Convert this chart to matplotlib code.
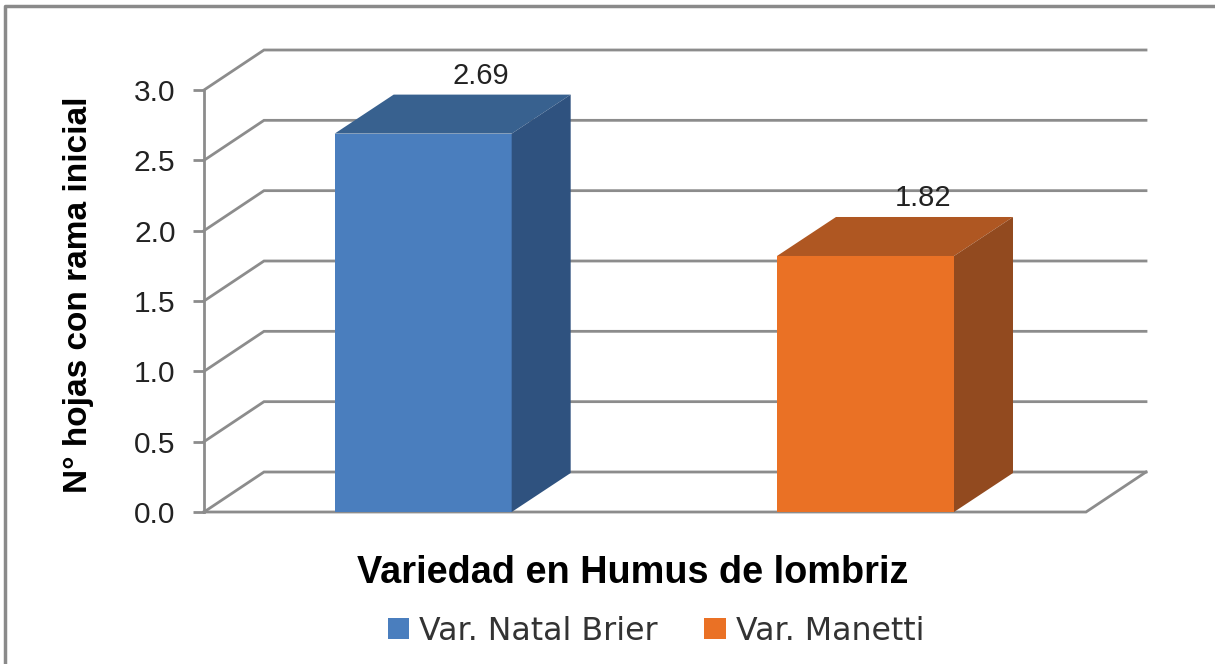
#!/usr/bin/env python3
"""3D-look bar chart: leaves per initial branch by variety, drawn with plain matplotlib."""
import matplotlib
matplotlib.use("Agg")
import matplotlib.pyplot as plt
from matplotlib.patches import Patch, Polygon

plt.rcParams["font.family"] = ["Liberation Sans", "DejaVu Sans"]

categories = ["Var. Natal Brier", "Var. Manetti"]
values = [2.69, 1.82]
value_labels = ["2.69", "1.82"]
y_ticks = [0.0, 0.5, 1.0, 1.5, 2.0, 2.5, 3.0]
y_tick_labels = ["0.0", "0.5", "1.0", "1.5", "2.0", "2.5", "3.0"]

COLORS = ["#4A7EBE", "#EA7125"]
TOPS = ["#38618F", "#AF5722"]
SIDES = ["#2F527F", "#924A1F"]
GRID = "#8C8C8C"

W, H = 1215, 664
X0, X1, Y0, Y3 = 204, 1086, 512, 90  # front plane in pixels
DX = 60 / (X1 - X0) * 2  # depth offset in data units
DY = 40 / (Y0 - Y3) * 3
BAR_DX = 59 / (X1 - X0) * 2  # bars are a hair shallower than the walls
BAR_DY = 39 / (Y0 - Y3) * 3
BAR_W = 177 / (X1 - X0) * 2
BAR_POS = [0.497, 1.5]

fig = plt.figure(figsize=(W / 100, H / 100), dpi=100, facecolor="white")
ax = fig.add_axes([X0 / W, 1 - Y0 / H, (X1 - X0) / W, (Y0 - Y3) / H])
ax.set_xlim(0, 2)
ax.set_ylim(0, 3)
ax.patch.set_visible(False)
for side in ["top", "right", "bottom"]:
    ax.spines[side].set_visible(False)
ax.spines["left"].set_color(GRID)
ax.spines["left"].set_linewidth(2)

# back wall gridlines and floor
for v in y_ticks:
    ax.plot([0, DX, 2 + DX], [v, v + DY, v + DY], color=GRID, lw=2,
            clip_on=False, zorder=1, solid_joinstyle="miter")
ax.plot([0, 2, 2 + DX], [0, 0, DY], color=GRID, lw=2, clip_on=False, zorder=1.5,
        solid_joinstyle="miter")

# bars with fake depth
for i, (val, label) in enumerate(zip(values, value_labels)):
    xc = BAR_POS[i]
    l, r = xc - BAR_W / 2, xc + BAR_W / 2
    ax.bar(xc, val, width=BAR_W, color=COLORS[i], zorder=3, clip_on=False)
    ax.add_patch(Polygon([(l, val), (l + BAR_DX, val + BAR_DY), (r + BAR_DX, val + BAR_DY), (r, val)],
                         closed=True, facecolor=TOPS[i], edgecolor="none",
                         clip_on=False, zorder=3))
    ax.add_patch(Polygon([(r, 0), (r + BAR_DX, BAR_DY), (r + BAR_DX, val + BAR_DY), (r, val)],
                         closed=True, facecolor=SIDES[i], edgecolor="none",
                         clip_on=False, zorder=3))
    ax.text(xc + DX - 0.005, val + DY + 0.025, label, ha="center", va="bottom",
            fontsize=21, color="#222222")

ax.set_xticks([])
ax.set_yticks(y_ticks)
ax.set_yticklabels(y_tick_labels, fontsize=21.5, color="#222222")
ax.tick_params(axis="y", length=8, width=2, color=GRID, pad=12.5, direction="out")

fig.text(79 / W, 1 - 295 / H, "N° hojas con rama inicial", rotation=90,
         ha="center", va="center", fontsize=24, fontweight="bold", color="black")
fig.text(633 / W, 1 - 573 / H, "Variedad en Humus de lombriz",
         ha="center", va="center", fontsize=27.3, fontweight="bold", color="black")

# legend
handles = [Patch(facecolor=c, edgecolor="none") for c in COLORS]
fig.legend(handles, categories, loc="center", bbox_to_anchor=(656 / W, 1 - 631 / H),
           ncol=2, frameon=False, prop={"family": "DejaVu Sans", "size": 22.8},
           handlelength=0.67, handleheight=0.67, handletextpad=0.32, columnspacing=1.48,
           labelcolor="#333333")

# outer chart border, cut off at the right and bottom of the image
fig.add_artist(plt.Line2D([5 / W, 5 / W, 1], [0, 1 - 6 / H, 1 - 6 / H],
                          color="#8A8A8A", lw=2.5, transform=fig.transFigure))

fig.savefig("out.png", dpi=100)
